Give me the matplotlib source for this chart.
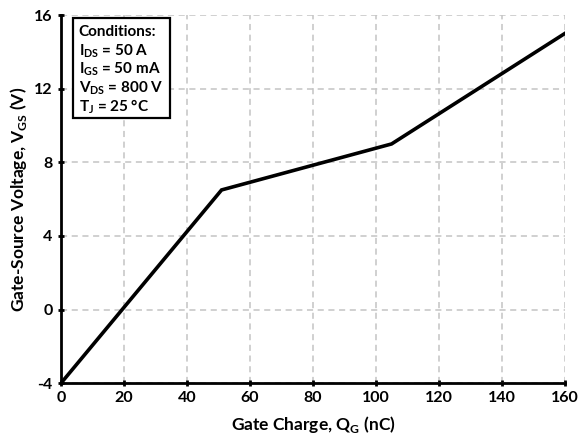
import matplotlib
matplotlib.use('Agg')
import matplotlib.pyplot as plt
from matplotlib.patches import Rectangle

# gate charge curve
qg = [0, 51, 105, 160]
vgs = [-4, 6.5, 9.0, 15.0]

x_ticks = [0, 20, 40, 60, 80, 100, 120, 140, 160]
y_ticks = [-4, 0, 4, 8, 12, 16]

cond_lines = [
    'Conditions:',
    r'I$_{\mathbf{DS}}$ = 50 A',
    r'I$_{\mathbf{GS}}$ = 50 mA',
    r'V$_{\mathbf{DS}}$ = 800 V',
    r'T$_{\mathbf{J}}$ = 25 °C',
]

plt.rcParams['font.family'] = ['Lato', 'DejaVu Sans']
plt.rcParams['font.weight'] = 'bold'
plt.rcParams['axes.unicode_minus'] = False
plt.rcParams['mathtext.fontset'] = 'custom'
plt.rcParams['mathtext.rm'] = 'Lato:bold'
plt.rcParams['mathtext.bf'] = 'Lato:bold'

fig = plt.figure(figsize=(5.87, 4.46), dpi=100)
ax = fig.add_axes([0.104, 0.141, 0.858, 0.825])

ax.plot(qg, vgs, color='black', lw=2.6, solid_joinstyle='miter', zorder=3)

ax.set_xlim(0, 160)
ax.set_ylim(-4, 16)
ax.set_xticks(x_ticks)
ax.set_yticks(y_ticks)
ax.grid(True, color='#c4c4c4', linestyle=(0, (4, 3)), lw=1.1)

for s in ['top', 'right']:
    ax.spines[s].set_visible(False)
for s in ['left', 'bottom']:
    ax.spines[s].set_linewidth(2)
ax.tick_params(direction='inout', length=5, width=2, labelsize=11.5)

ax.set_xlabel(r'Gate Charge, Q$_{\mathbf{G}}$ (nC)', fontsize=12.5, fontweight='bold', labelpad=6)
ax.set_ylabel(r'Gate-Source Voltage, V$_{\mathbf{GS}}$ (V)', fontsize=12.5, fontweight='bold', labelpad=4)

# conditions box
ax.add_patch(Rectangle((0.024, 0.72), 0.192, 0.272, transform=ax.transAxes,
                       fc='white', ec='black', lw=1.6, zorder=5))
for i, line in enumerate(cond_lines):
    ax.text(0.035, 0.953 - i * 0.0505, line, transform=ax.transAxes, va='center', ha='left',
            fontsize=11, fontweight='bold', zorder=6)

fig.savefig('out.png', dpi=100)
